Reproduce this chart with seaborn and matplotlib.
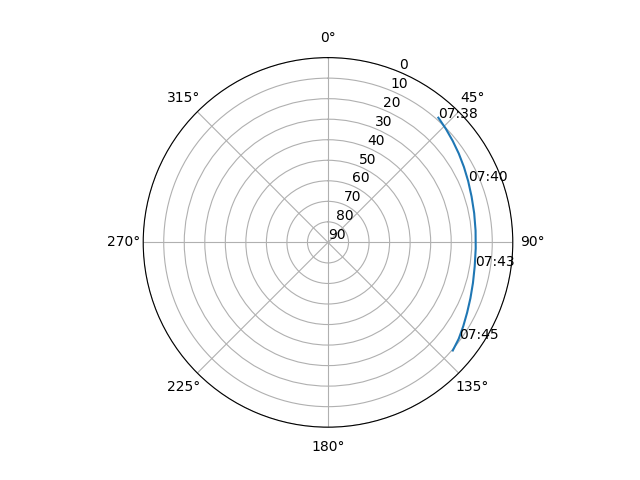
import numpy as np
import pandas as pd
import matplotlib
matplotlib.use('Agg')
import matplotlib.pyplot as plt
import seaborn as sns

# satellite pass, one point every 30 s
times = ['07:38', '07:38', '07:39', '07:39', '07:40', '07:40', '07:41', '07:41', '07:42',
         '07:42', '07:43', '07:43', '07:44', '07:44', '07:45', '07:45', '07:46']
azimuth = [41.5, 46.1, 50.9, 55.8, 61.0, 66.4, 72.3, 78.7, 85.4,
           92.3, 99.3, 105.6, 111.4, 116.8, 121.8, 126.4, 130.9]
elevation = [8.9, 10.3, 11.7, 13.0, 14.3, 15.5, 16.6, 17.4, 17.9,
             18.0, 17.6, 16.7, 15.5, 14.1, 12.5, 10.9, 9.6]
label_idx = [0, 5, 10, 15]

df = pd.DataFrame({'theta': np.radians(azimuth), 'el': elevation})

fig = plt.figure(figsize=(6.4, 4.8), dpi=100)
ax = fig.add_subplot(111, projection='polar')
ax.set_theta_zero_location('N')
ax.set_theta_direction(-1)

sns.lineplot(data=df, x='theta', y='el', ax=ax, sort=False, estimator=None)
for i in label_idx:
    ax.text(df['theta'][i], elevation[i], times[i])

ax.set_ylim(90, 0)
ax.set_yticks(range(0, 91, 10))
ax.set_xlabel('')
ax.set_ylabel('')

fig.savefig('out.png')
